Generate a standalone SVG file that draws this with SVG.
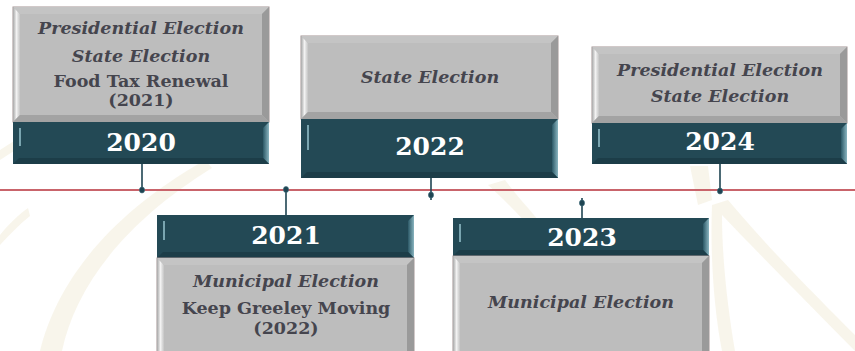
<svg xmlns="http://www.w3.org/2000/svg" width="855" height="351" viewBox="0 0 855 351">
<defs>
<linearGradient id="tealR" x1="0" y1="0" x2="1" y2="0"><stop offset="0" stop-color="#2b5866"/><stop offset="1" stop-color="#8ab5c0"/></linearGradient>
<linearGradient id="grayL" x1="0" y1="0" x2="1" y2="0"><stop offset="0" stop-color="#a8a8a8"/><stop offset="0.5" stop-color="#f2f2f2"/><stop offset="1" stop-color="#c4c4c4"/></linearGradient>
</defs>
<style>
.gOut{fill:#b3b3b3;stroke:#a49494;stroke-width:1}
.gIn{fill:#bdbdbd}
.gTop{fill:#c4c4c4}
.gRight{fill:#9a9a9a}
.gBot{fill:#a3a3a3}
.tOut{fill:#234955}
.tIn{fill:#264e5b}
.tBot{fill:#1c3d48}
.tHl{stroke:#7aa5b0;stroke-width:2}
.txt{font-family:"DejaVu Serif","Liberation Serif",serif;font-weight:bold;fill:#45454e;text-anchor:middle}
.it{font-style:italic}
.yr{font-family:"DejaVu Serif","Liberation Serif",serif;font-weight:bold;fill:#ffffff;text-anchor:middle;font-size:25px}
.conn{stroke:#1f4452;stroke-width:1.6}
.dot{fill:#1f4452;stroke:#3d6b7a;stroke-width:0.6}
.bg{fill:#efe9d3;opacity:0.45}
</style>
<rect width="855" height="351" fill="#ffffff"/>
<g id="background">
<path class="bg" d="M40,351 C55,290 100,220 205,160 L212,168 C120,225 75,290 62,351 Z"/>
<path class="bg" d="M0,150 C15,140 35,128 55,122 L50,132 C32,140 15,150 0,160 Z"/>
<path class="bg" d="M712,205 L728,200 C770,250 820,300 855,335 L855,351 C810,305 760,255 722,215 C722,260 728,310 735,351 L722,351 C714,310 710,255 712,205 Z"/>
<path class="bg" d="M488,185 L505,180 C520,200 535,215 548,232 L538,236 C522,218 505,200 488,185 Z"/>
<path class="bg" d="M690,166 L708,166 L712,200 L698,205 Z"/>
<path class="bg" d="M0,235 C8,225 18,215 28,208 L30,216 C20,224 10,234 0,245 Z"/>
</g>
<g id="connectors">
<line x1="0" y1="190" x2="855" y2="190" stroke="#c9646b" stroke-width="2.2"/>
<line class="conn" x1="142" y1="164" x2="142" y2="190"/>
<ellipse class="dot" cx="142" cy="190" rx="2.6" ry="3"/>
<line class="conn" x1="286" y1="190" x2="286" y2="215"/>
<line x1="288.5" y1="194" x2="288.5" y2="215" stroke="#ffffff" stroke-width="1.5"/>
<ellipse class="dot" cx="286" cy="189.5" rx="2.6" ry="3"/>
<line class="conn" x1="431" y1="178" x2="431" y2="200"/>
<ellipse class="dot" cx="431" cy="195" rx="2.6" ry="3"/>
<line class="conn" x1="582" y1="198" x2="582" y2="218"/>
<line x1="584.5" y1="206" x2="584.5" y2="218" stroke="#ffffff" stroke-width="1.5"/>
<ellipse class="dot" cx="582" cy="203" rx="2.6" ry="3"/>
<line class="conn" x1="720" y1="164" x2="720" y2="191"/>
<ellipse class="dot" cx="720" cy="191" rx="2.6" ry="3"/>
</g>
<g id="node2020">
<rect class="gOut" x="13" y="7" width="256" height="115"/>
<polygon class="gTop" points="13,7 269,7 262,14 20,14"/>
<polygon fill="url(#grayL)" points="13,7 20,14 20,115 13,122"/>
<polygon class="gRight" points="269,7 269,122 262,115 262,14"/>
<polygon class="gBot" points="13,122 269,122 262,115 20,115"/>
<rect class="gIn" x="20" y="14" width="242" height="101"/>
<rect class="tOut" x="13" y="122" width="256" height="42"/>
<polygon fill="url(#tealR)" points="269,122 269,164 263,158 263,128"/>
<polygon class="tBot" points="13,164 269,164 263,158 19,158"/>
<line class="tHl" x1="20" y1="128" x2="20" y2="146"/>
<text class="txt it" x="141" y="34" font-size="17.5">Presidential Election</text>
<text class="txt it" x="141" y="62" font-size="17.5">State Election</text>
<text class="txt" x="141" y="87" font-size="17.5">Food Tax Renewal</text>
<text class="txt" x="141" y="106" font-size="17.5">(2021)</text>
<text class="yr" x="141" y="151">2020</text>
</g>
<g id="node2022">
<rect class="gOut" x="301" y="36" width="257" height="83"/>
<polygon class="gTop" points="301,36 558,36 551,43 308,43"/>
<polygon fill="url(#grayL)" points="301,36 308,43 308,112 301,119"/>
<polygon class="gRight" points="558,36 558,119 551,112 551,43"/>
<polygon class="gBot" points="301,119 558,119 551,112 308,112"/>
<rect class="gIn" x="308" y="43" width="243" height="69"/>
<rect class="tOut" x="301" y="119" width="257" height="59"/>
<polygon fill="url(#tealR)" points="558,119 558,178 552,172 552,125"/>
<polygon class="tBot" points="301,178 558,178 552,172 307,172"/>
<line class="tHl" x1="308" y1="125" x2="308" y2="150"/>
<text class="txt it" x="430" y="83" font-size="17.5">State Election</text>
<text class="yr" x="430" y="155">2022</text>
</g>
<g id="node2024">
<rect class="gOut" x="592" y="47" width="255" height="76"/>
<polygon class="gTop" points="592,47 847,47 840,54 599,54"/>
<polygon fill="url(#grayL)" points="592,47 599,54 599,116 592,123"/>
<polygon class="gRight" points="847,47 847,123 840,116 840,54"/>
<polygon class="gBot" points="592,123 847,123 840,116 599,116"/>
<rect class="gIn" x="599" y="54" width="241" height="62"/>
<rect class="tOut" x="592" y="123" width="255" height="41"/>
<polygon fill="url(#tealR)" points="847,123 847,164 841,158 841,129"/>
<polygon class="tBot" points="592,164 847,164 841,158 598,158"/>
<line class="tHl" x1="599" y1="129" x2="599" y2="147"/>
<text class="txt it" x="720" y="76" font-size="17.5">Presidential Election</text>
<text class="txt it" x="720" y="102" font-size="17.5">State Election</text>
<text class="yr" x="720" y="150">2024</text>
</g>
<g id="node2021">
<rect class="tOut" x="157" y="215" width="257" height="43"/>
<polygon fill="url(#tealR)" points="414,215 414,258 408,252 408,221"/>
<polygon class="tBot" points="157,258 414,258 408,252 163,252"/>
<line class="tHl" x1="164" y1="221" x2="164" y2="240"/>
<rect class="gOut" x="157" y="258" width="257" height="98"/>
<polygon class="gTop" points="157,258 414,258 407,265 164,265"/>
<polygon fill="url(#grayL)" points="157,258 164,265 164,356 157,356"/>
<polygon class="gRight" points="414,258 414,356 407,356 407,265"/>
<rect class="gIn" x="164" y="265" width="243" height="91"/>
<text class="yr" x="286" y="244">2021</text>
<text class="txt it" x="286" y="287" font-size="17.5">Municipal Election</text>
<text class="txt" x="286" y="314" font-size="17.5">Keep Greeley Moving</text>
<text class="txt" x="286" y="334" font-size="17.5">(2022)</text>
</g>
<g id="node2023">
<rect class="tOut" x="453" y="218" width="256" height="38"/>
<polygon fill="url(#tealR)" points="709,218 709,256 703,250 703,224"/>
<polygon class="tBot" points="453,256 709,256 703,250 459,250"/>
<line class="tHl" x1="460" y1="224" x2="460" y2="242"/>
<rect class="gOut" x="453" y="256" width="256" height="100"/>
<polygon class="gTop" points="453,256 709,256 702,263 460,263"/>
<polygon fill="url(#grayL)" points="453,256 460,263 460,356 453,356"/>
<polygon class="gRight" points="709,256 709,356 702,356 702,263"/>
<rect class="gIn" x="460" y="263" width="242" height="93"/>
<text class="yr" x="582" y="246">2023</text>
<text class="txt it" x="581" y="308" font-size="17.5">Municipal Election</text>
</g>
</svg>
